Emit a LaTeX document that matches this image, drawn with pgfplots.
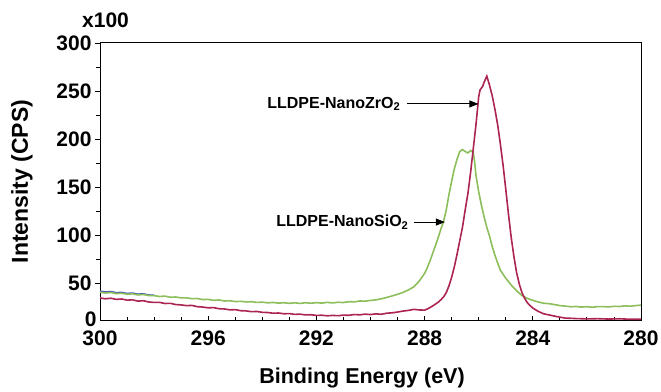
\documentclass[border=0pt]{standalone}
\usepackage{fontspec}
\setmainfont{Liberation Sans}
\usepackage{pgfplots}
\pgfplotsset{compat=1.18}
\usetikzlibrary{arrows.meta}
\definecolor{zrred}{RGB}{172,36,82}
\definecolor{sigreen}{RGB}{141,190,92}
\definecolor{blueish}{RGB}{70,90,190}
\begin{document}
\begin{tikzpicture}
\begin{axis}[
 scale only axis, width=541pt, height=278.5pt,
 x dir=reverse, xmin=280, xmax=300, ymin=11, ymax=301,
 xtick={280,284,...,300}, minor x tick num=3,
 ytick={50,100,...,300}, minor y tick num=1,
 extra y ticks={11}, extra y tick labels={0}, extra y tick style={major tick length=0pt, yticklabel style={yshift=1pt}},
 tick pos=left,
 xtick align=inside, ytick align=outside,
 major tick length=5pt, minor tick length=3.5pt,
 tick style={black, line width=0.8pt},
 axis line style={line width=0.9pt},
 /pgf/number format/assume math mode=true,
 ticklabel style={font=\fontsize{21}{24}\selectfont\bfseries},
 xticklabel style={yshift=-7pt},
 no marks,
]
\addplot[blueish, line width=1.5pt] coordinates {
(300.0,41.6)(299.8,40.7)(299.6,41.2)(299.4,40.0)(299.2,40.3)(299.0,39.2)(298.8,39.6)(298.6,38.5)(298.4,38.8)(298.2,37.6)(298.0,37.3)
};
\addplot[sigreen, line width=1.6pt] coordinates {
(300.0,40.5)(299.8,39.6)(299.6,40.2)(299.4,39.0)(299.2,39.4)(299.0,38.3)(298.8,38.8)(298.6,37.6)(298.4,38.1)(298.2,37.0)
(298.0,36.9)(297.8,36.0)(297.6,36.4)(297.4,35.2)(297.2,35.5)(297.0,34.5)(296.8,34.6)(296.6,33.7)(296.4,33.9)(296.2,32.8)
(296.0,33.0)(295.8,32.0)(295.6,32.4)(295.4,31.3)(295.2,31.6)(295.0,30.7)(294.8,31.0)(294.6,30.3)(294.4,30.6)(294.2,29.8)
(294.0,30.1)(293.8,29.4)(293.6,29.8)(293.4,29.1)(293.2,29.5)(293.0,28.9)(292.8,29.4)(292.6,28.8)(292.4,29.5)(292.2,29.0)
(292.0,29.6)(291.8,29.1)(291.6,29.9)(291.4,29.3)(291.2,30.0)(291.0,29.7)(290.8,30.6)(290.6,30.4)(290.4,31.3)(290.2,31.2)
(290.0,31.9)(289.8,32.5)(289.6,33.6)(289.4,35.0)(289.2,36.6)(289.0,38.3)(288.8,40.2)(288.6,42.8)(288.4,46.0)(288.2,52.0)
(288.0,60.0)(287.9,66.0)(287.8,73.0)(287.7,81.0)(287.6,89.0)(287.5,97.0)(287.4,106.0)(287.3,114.0)(287.2,126.0)(287.1,142.0)
(287.0,156.0)(286.9,169.0)(286.8,179.0)(286.7,187.0)(286.6,189.0)(286.5,187.0)(286.4,185.5)(286.3,188.0)(286.2,186.0)(286.15,176.0)
(286.1,162.0)(286.0,145.0)(285.9,131.0)(285.8,119.0)(285.7,108.0)(285.6,99.0)(285.5,88.0)(285.4,79.0)(285.3,71.0)(285.2,63.5)
(285.0,55.0)(284.8,48.0)(284.6,42.0)(284.4,37.0)(284.2,34.0)(284.0,32.0)(283.8,30.3)(283.6,29.0)(283.4,28.5)(283.2,27.6)
(283.0,26.5)(282.8,26.0)(282.6,25.3)(282.4,25.6)(282.2,25.0)(282.0,25.4)(281.8,24.8)(281.6,25.5)(281.4,25.5)(281.2,25.1)
(281.0,25.8)(280.8,25.6)(280.6,26.2)(280.4,25.9)(280.2,26.5)(280.0,27.0)
};
\addplot[zrred, line width=1.6pt] coordinates {
(300.0,34.5)(299.8,33.6)(299.6,34.2)(299.4,33.0)(299.2,33.4)(299.0,32.2)(298.8,32.5)(298.6,31.2)(298.4,31.6)(298.2,30.3)
(298.0,29.8)(297.8,29.9)(297.6,28.7)(297.4,28.9)(297.2,27.6)(297.0,27.2)(296.8,26.5)(296.6,26.7)(296.4,25.4)(296.2,25.0)
(296.0,24.2)(295.8,24.4)(295.6,23.3)(295.4,23.0)(295.2,22.1)(295.0,22.3)(294.8,21.2)(294.6,21.0)(294.4,20.2)(294.2,20.4)
(294.0,19.5)(293.8,19.3)(293.6,18.6)(293.4,18.8)(293.2,18.0)(293.0,18.2)(292.8,17.4)(292.6,17.6)(292.4,16.8)(292.2,17.0)
(292.0,16.3)(291.8,16.5)(291.6,15.9)(291.4,16.3)(291.2,16.0)(291.0,16.6)(290.8,16.4)(290.6,17.2)(290.4,16.9)(290.2,17.6)
(290.0,17.2)(289.8,17.9)(289.6,17.5)(289.4,18.6)(289.2,19.0)(289.0,19.8)(288.8,20.8)(288.6,21.5)(288.4,22.6)(288.2,22.0)
(288.0,21.8)(287.9,23.0)(287.8,24.5)(287.7,26.2)(287.6,28.0)(287.5,30.0)(287.4,32.5)(287.3,35.5)(287.2,40.0)(287.1,47.0)
(287.0,56.0)(286.9,67.0)(286.8,80.0)(286.7,94.0)(286.6,108.0)(286.5,126.0)(286.4,143.0)(286.3,165.0)(286.2,190.0)(286.1,215.0)
(286.0,244.0)(285.95,251.0)(285.85,255.0)(285.8,259.0)(285.7,265.5)(285.6,256.0)(285.5,245.0)(285.4,231.0)(285.3,215.0)(285.2,195.0)
(285.1,173.0)(285.0,148.0)(284.9,122.0)(284.8,98.0)(284.7,78.0)(284.6,61.0)(284.5,49.0)(284.4,40.0)(284.3,34.0)(284.2,29.5)
(284.1,26.5)(284.0,24.0)(283.8,20.5)(283.6,18.0)(283.4,16.8)(283.2,15.6)(283.0,14.5)(282.8,13.5)(282.6,13.3)(282.4,13.0)
(282.0,12.7)(281.6,12.9)(281.2,12.5)(280.8,12.8)(280.4,12.3)(280.0,12.3)
};
\node[anchor=east, font=\fontsize{16}{19}\selectfont\bfseries, inner sep=0pt] at (axis cs:288.89,236.5) {LLDPE-NanoZrO\textsubscript{2}};
\draw[-{Triangle[length=9pt,width=7pt]}, line width=0.9pt] (axis cs:288.64,236.5) -- (axis cs:286.01,236.5);
\node[anchor=east, font=\fontsize{16}{19}\selectfont\bfseries, inner sep=0pt] at (axis cs:288.59,113.5) {LLDPE-NanoSiO\textsubscript{2}};
\draw[-{Triangle[length=9pt,width=7pt]}, line width=0.9pt] (axis cs:288.41,113.5) -- (axis cs:287.25,113.5);
\end{axis}
\node[font=\fontsize{21.5}{25}\selectfont\bfseries] at ([xshift=262pt,yshift=-57.5pt]current axis.south west) {Binding Energy (eV)};
\node[rotate=90, font=\fontsize{23}{27}\selectfont\bfseries] at ([xshift=-78pt,yshift=139pt]current axis.south west) {Intensity (CPS)};
\node[anchor=base west, font=\fontsize{21}{24}\selectfont\bfseries, inner sep=0pt] at ([xshift=-18pt,yshift=14pt]current axis.north west) {x100};
\pgfresetboundingbox
\path[use as bounding box] ([xshift=-100pt,yshift=-70.5pt]current axis.south west) rectangle ([xshift=561pt,yshift=320.5pt]current axis.south west);
\end{tikzpicture}
\end{document}
